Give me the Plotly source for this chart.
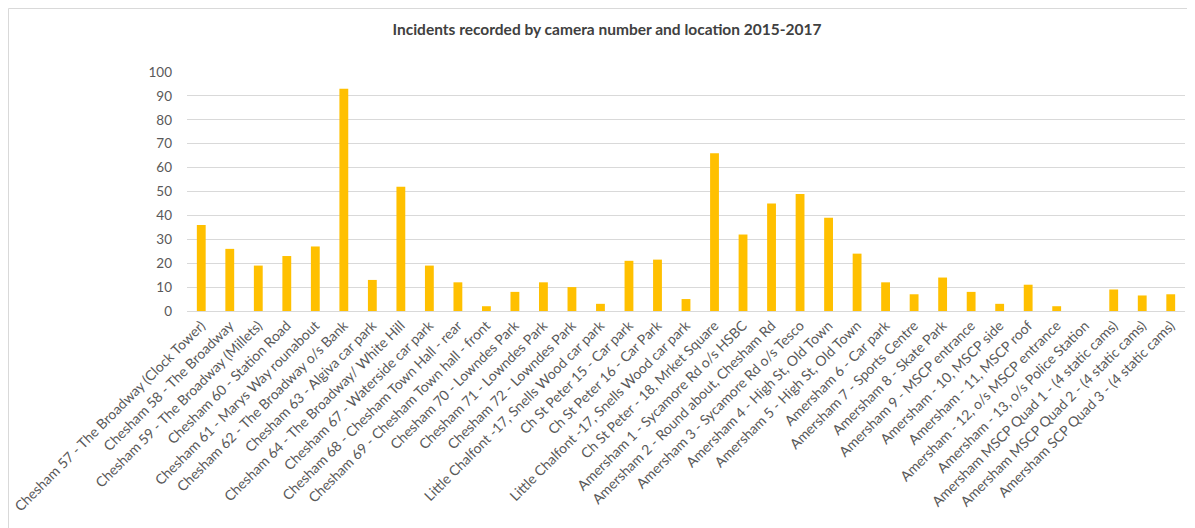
import plotly.graph_objects as go

title_text = "Incidents recorded by camera number and location 2015-2017"

categories = [
    "Chesham 57 - The Broadway (Clock Tower)",
    "Chesham 58 - The Broadway",
    "Chesham 59 - The Broadway (Millets)",
    "Chesham 60 - Station Road",
    "Chesham 61 - Marys Way rounabout",
    "Chesham 62 - The Broadway o/s Bank",
    "Chesham 63 - Algiva car park",
    "Chesham 64 - The Broadway/ White Hill",
    "Chesham 67 - Waterside car park",
    "Chesham 68 - Chesham Town Hall - rear",
    "Chesham 69 - Chesham Town hall - front",
    "Chesham 70 - Lowndes Park",
    "Chesham 71 - Lowndes Park",
    "Chesham 72 - Lowndes Park",
    "Little Chalfont -17, Snells Wood car park",
    "Ch St Peter 15 - Car park",
    "Ch St Peter 16 - Car Park",
    "Little Chalfont -17, Snells Wood car park",
    "Ch St Peter - 18, Mrket Square",
    "Amersham 1 - Sycamore Rd o/s HSBC",
    "Amersham 2 - Round about, Chesham Rd",
    "Amersham 3 - Sycamore Rd o/s Tesco",
    "Amersham 4 - High St, Old Town",
    "Amersham 5 - High St, Old Town",
    "Amersham 6 - Car park",
    "Amersham 7 - Sports Centre",
    "Amersham 8 - Skate Park",
    "Amersham 9 - MSCP entrance",
    "Amersham - 10, MSCP side",
    "Amersham - 11, MSCP roof",
    "Amersham - 12, o/s MSCP entrance",
    "Amersham - 13, o/s Police Station",
    "Amersham MSCP Quad 1 - (4 static cams)",
    "Amersham MSCP Quad 2 - (4 static cams)",
    "Amersham SCP Quad 3 - (4 static cams)",
]

incidents = [36, 26, 19, 23, 27, 93, 13, 52, 19, 12, 2, 8, 12, 10, 3, 21, 21.5, 5,
             66, 32, 45, 49, 39, 24, 12, 7, 14, 8, 3, 11, 2, 0, 9, 6.5, 7]

y_ticks = [0, 10, 20, 30, 40, 50, 60, 70, 80, 90, 100]

positions = list(range(len(categories)))

FONT = "Lato, 'Open Sans', sans-serif"

fig = go.Figure()
fig.add_trace(go.Bar(
    x=positions,
    y=incidents,
    marker=dict(color="#FFC000", line=dict(width=0)),
    hoverinfo="y",
))

# page body has an 8px margin, so the figure is shifted by 8px
OFF = 8
W, H = 1195 - OFF, 528 - OFF
L, T = 187 - OFF, 72 - OFF
R = W - (1185 - OFF)
B = H - (311 - OFF)
pw, ph = W - L - R, H - T - B

def px_x(p):
    return (p - L) / pw

def px_y(p):
    return (H - B - p) / ph

fig.update_layout(
    width=W, height=H,
    margin=dict(l=L, r=R, t=T, b=B),
    paper_bgcolor="white",
    plot_bgcolor="white",
    bargap=0.69,
    showlegend=False,
    font=dict(family=FONT, color="#595959"),
    title=dict(
        text=title_text,
        x=(607 - OFF) / W, xanchor="center",
        y=1 - (30 - OFF) / H, yanchor="middle",
        font=dict(family=FONT, size=15.5, color="#404040", weight="bold"),
    ),
    xaxis=dict(
        range=[-0.5, len(categories) - 0.5],
        tickmode="array",
        tickvals=positions,
        ticktext=categories,
        tickangle=-45,
        ticklabeloverflow="allow",
        tickfont=dict(family=FONT, size=14, color="#595959"),
        showgrid=False,
        showline=True,
        linecolor="#d9d9d9",
        linewidth=1,
        ticks="",
        zeroline=False,
        automargin=False,
    ),
    yaxis=dict(
        range=[0, 100],
        tickmode="array",
        tickvals=y_ticks,
        showgrid=True,
        gridcolor="#d9d9d9",
        gridwidth=1.3,
        zeroline=False,
        showline=False,
        ticks="",
        ticklabelstandoff=14,
        tickfont=dict(family=FONT, size=13.5, color="#595959"),
        automargin=False,
    ),
    shapes=[dict(
        type="rect", xref="paper", yref="paper",
        x0=px_x(0.5), x1=px_x(W + 20), y0=px_y(H + 20), y1=px_y(0.5),
        line=dict(color="#d9d9d9", width=1), fillcolor="rgba(0,0,0,0)",
        layer="below",
    )],
)

fig.write_html("out.html")
